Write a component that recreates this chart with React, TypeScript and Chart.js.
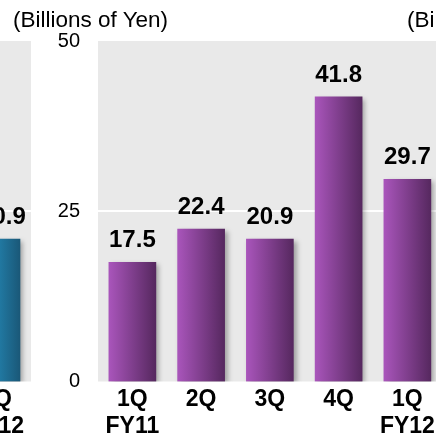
import React, { useEffect, useRef } from 'react';
import { Chart, registerables } from 'chart.js';

Chart.register(...registerables);

// ---- data ----
const categories: (string | string[])[] = [['1Q', 'FY11'], '2Q', '3Q', '4Q', ['1Q', 'FY12']];
const values: number[] = [17.5, 22.4, 20.9, 41.8, 29.7];
const yTicks: number[] = [0, 25, 50];
const prevCategories: (string | string[])[] = [['1Q', 'FY12']];
const prevValues: number[] = [20.9];
const unitLabel = '(Billions of Yen)';

const FONT = "'Liberation Sans', Arial, Helvetica, sans-serif";
const PANEL = '#e9e9e9';
const BAR_W = 47;

function gradientFill(c0: string, c1: string) {
  return (ctx: any) => {
    const chart = ctx.chart;
    const xs = chart.scales && chart.scales.x;
    if (!xs || ctx.dataIndex == null || !chart.chartArea) return c0;
    const cx = xs.getPixelForValue(ctx.dataIndex);
    const g = chart.ctx.createLinearGradient(cx - BAR_W / 2, 0, cx + BAR_W / 2, 0);
    g.addColorStop(0, c0);
    g.addColorStop(1, c1);
    return g;
  };
}

function makePanelPlugin(labelDx: number) {
  return {
    id: 'panelPlugin',
    beforeDatasetsDraw(chart: any) {
      const { ctx, chartArea: a, scales } = chart;
      ctx.save();
      ctx.fillStyle = PANEL;
      ctx.fillRect(a.left, a.top, a.right - a.left, a.bottom - a.top);
      ctx.strokeStyle = '#ffffff';
      ctx.lineWidth = 2;
      const ys = scales.y;
      yTicks
        .filter((v) => v > ys.min && v < ys.max)
        .forEach((v) => {
          const y = Math.round(ys.getPixelForValue(v));
          ctx.beginPath();
          ctx.moveTo(a.left, y);
          ctx.lineTo(a.right, y);
          ctx.stroke();
        });
      ctx.restore();
      ctx.save();
      ctx.shadowColor = 'rgba(0,0,0,0.32)';
      ctx.shadowBlur = 5;
      ctx.shadowOffsetX = 3;
      ctx.shadowOffsetY = 2;
    },
    afterDatasetsDraw(chart: any) {
      const { ctx } = chart;
      ctx.restore();
      const meta = chart.getDatasetMeta(0);
      const data = chart.data.datasets[0].data as number[];
      ctx.save();
      ctx.fillStyle = '#000';
      ctx.font = `bold 24px ${FONT}`;
      ctx.textAlign = 'center';
      ctx.textBaseline = 'alphabetic';
      meta.data.forEach((el: any, i: number) => {
        ctx.fillText(data[i].toFixed(1), el.x + labelDx, el.y - 15);
      });
      ctx.restore();
    },
  };
}

function makeConfig(
  labels: (string | string[])[],
  data: number[],
  c0: string,
  c1: string,
  showY: boolean,
  padRight: number,
  labelDx: number
): any {
  return {
    type: 'bar',
    data: {
      labels,
      datasets: [
        {
          data,
          backgroundColor: gradientFill(c0, c1),
          borderWidth: 0,
          barThickness: BAR_W,
        },
      ],
    },
    options: {
      responsive: false,
      animation: false,
      devicePixelRatio: 1,
      layout: { padding: { top: 41, left: 0, right: padRight, bottom: 0 } },
      plugins: { legend: { display: false }, tooltip: { enabled: false }, title: { display: false } },
      scales: {
        x: {
          grid: { display: false, drawTicks: false },
          border: { display: false },
          ticks: {
            color: '#000',
            padding: 5,
            font: { family: FONT, size: 23, weight: 'bold', lineHeight: 1.17 },
            maxRotation: 0,
            autoSkip: false,
          },
          afterFit: (s: any) => {
            s.height = 59.5;
          },
        },
        y: {
          display: showY,
          min: yTicks[0],
          max: yTicks[yTicks.length - 1],
          grid: { display: false, drawTicks: false },
          border: { display: false },
          afterBuildTicks: (s: any) => {
            s.ticks = yTicks.map((v) => ({ value: v }));
          },
          ticks: {
            color: '#000',
            padding: 18,
            font: { family: FONT, size: 20 },
          },
          afterFit: (s: any) => {
            s.width = showY ? 98 : 0;
          },
        },
      },
    },
    plugins: [makePanelPlugin(labelDx)],
  };
}

function BarPanel(props: {
  labels: (string | string[])[];
  data: number[];
  c0: string;
  c1: string;
  showY: boolean;
  left: number;
  width: number;
  padRight: number;
  labelDx: number;
}) {
  const ref = useRef<HTMLCanvasElement | null>(null);
  useEffect(() => {
    if (!ref.current) return;
    const chart = new Chart(
      ref.current,
      makeConfig(props.labels, props.data, props.c0, props.c1, props.showY, props.padRight, props.labelDx)
    );
    return () => chart.destroy();
  }, []);
  return (
    <canvas
      ref={ref}
      width={props.width}
      height={441}
      style={{ position: 'absolute', left: props.left, top: 0, width: props.width, height: 441 }}
    />
  );
}

const titleStyle: React.CSSProperties = {
  position: 'absolute',
  top: 8,
  fontFamily: FONT,
  fontSize: 22.5,
  lineHeight: '23px',
  color: '#000',
  whiteSpace: 'nowrap',
};

export default function App() {
  return (
    <div
      style={{
        position: 'fixed',
        left: 0,
        top: 0,
        width: 436,
        height: 441,
        overflow: 'hidden',
        background: '#fff',
      }}
    >
      <BarPanel
        labels={prevCategories}
        data={prevValues}
        c0="#2aa3d8"
        c1="#1a5878"
        showY={false}
        left={-38}
        width={69}
        padRight={0}
        labelDx={6}
      />
      <BarPanel
        labels={categories}
        data={values}
        c0="#a955bb"
        c1="#56285f"
        showY={true}
        left={0}
        width={450}
        padRight={8.25}
        labelDx={0}
      />
      <div style={{ ...titleStyle, left: 13 }}>{unitLabel}</div>
      <div style={{ ...titleStyle, left: 407 }}>{unitLabel}</div>
    </div>
  );
}
